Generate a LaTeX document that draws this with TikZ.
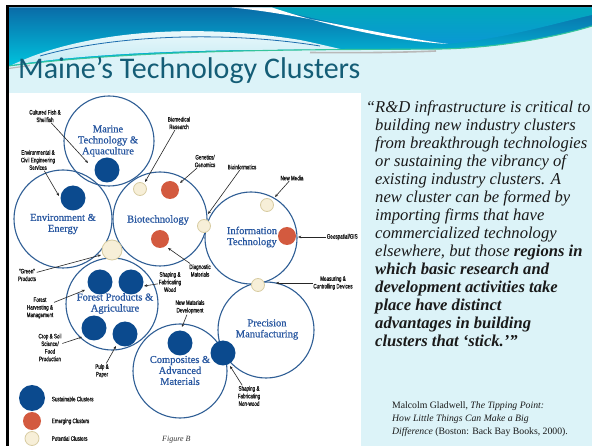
\documentclass[tikz,border=0pt]{standalone}
\usepackage{fontspec}
\setmainfont{Liberation Serif}
\newfontfamily\titlefont{Carlito}
\newfontfamily\annfont[FakeStretch=0.7,FakeBold=0.9]{Liberation Sans}
\newfontfamily\clusterfont[FakeBold=0.7]{Liberation Serif}
\usetikzlibrary{arrows.meta}
\definecolor{slidebg}{HTML}{DCF3F8}
\definecolor{bandtop}{HTML}{0A6CA8}
\definecolor{bandbot}{HTML}{00C3DD}
\definecolor{bandteal}{HTML}{02A8BC}
\definecolor{bandblue}{HTML}{0A98D4}
\definecolor{swoosh}{HTML}{C4EBF4}
\definecolor{swooshline}{HTML}{1C6DAE}
\definecolor{greenline}{HTML}{35C49B}
\definecolor{titlecol}{HTML}{145D76}
\definecolor{ringblue}{HTML}{2F5E95}
\definecolor{labelblue}{HTML}{2857A0}
\definecolor{sustblue}{HTML}{0B4A8E}
\definecolor{emorange}{HTML}{D35A3F}
\definecolor{potbeige}{HTML}{F7EFD8}
\definecolor{potedge}{HTML}{D8CCA2}
\definecolor{quotecol}{HTML}{1A1A1A}
\begin{document}
\begin{tikzpicture}[x=1pt,y=-1pt,
  ring/.style={circle,draw=ringblue,line width=1.1pt,inner sep=0pt},
  sust/.style={circle,fill=sustblue,inner sep=0pt,minimum size=25pt},
  emerg/.style={circle,fill=emorange,inner sep=0pt,minimum size=18pt},
  potent/.style={circle,fill=potbeige,draw=potedge,line width=0.8pt,inner sep=0pt,minimum size=13pt},
  clabel/.style={font=\clusterfont\fontsize{10.5}{11}\selectfont,text=labelblue,align=center,inner sep=0pt},
  ann/.style={font=\annfont\fontsize{6.5}{7.6}\selectfont,align=center,inner sep=0.6pt,text=black!90},
  pointer/.style={draw=black!85,line width=0.6pt,-{Stealth[length=3.2pt,width=2.6pt]}},
]
\useasboundingbox (0,0) rectangle (592,446);
% slide background and frame
\fill[white] (0,0) rectangle (592,446);
\fill[slidebg] (8.5,7.5) rectangle (592,446);

% header band
\shade[top color=bandtop,bottom color=bandbot]
  (8.5,7.5) -- (592,7.5) -- (592,26)
  .. controls (560,36) and (500,48) .. (440,49)
  .. controls (330,50) and (150,48) .. (8.5,66) -- cycle;
\shade[top color=bandteal,bottom color=bandblue]
  (245,7.5) -- (592,7.5) -- (592,15)
  .. controls (560,22) and (500,40) .. (445,44)
  .. controls (380,36) and (310,16) .. (262,7.5) -- cycle;
\fill[white] (232,7.5) .. controls (300,14) and (380,35) .. (448,44)
  .. controls (380,40) and (310,20) .. (272,7.5) -- cycle;
\shade[top color=white!80!swoosh,bottom color=swoosh]
  (12,65) .. controls (80,32) and (190,22) .. (300,40)
  .. controls (320,44) and (335,48) .. (345,50)
  .. controls (250,49) and (110,50) .. (12,65) -- cycle;
\draw[swooshline,line width=0.8pt] (40,56) .. controls (110,36) and (220,30) .. (320,46);
\draw[gray!55,line width=1.6pt] (310,52.5) .. controls (360,53) and (400,52.5) .. (436,51);
\draw[gray!55,line width=1.2pt] (8.5,68.5) -- (30,65.5);
\draw[greenline,line width=1.1pt] (8.5,66) .. controls (150,48) and (330,50) .. (440,49)
  .. controls (500,48) and (560,36) .. (592,26);

% frame lines
\fill[black] (5.5,4.8) rectangle (592,7.5);
\fill[black] (5.5,4.8) rectangle (8.5,446);

% title
\node[anchor=base west,inner sep=0pt,text=titlecol,
  font=\titlefont\fontsize{30}{30}\selectfont] (title) at (18,79) {Maine’s Technology Clusters};

% figure panel
\fill[white] (8.5,93) rectangle (361,446);

% cluster rings
\node[ring,minimum size=90pt] (marine) at (109,141) {};
\node[ring,minimum size=98pt] (env) at (63,219) {};
\node[ring,minimum size=94pt] (bio) at (160,219) {};
\node[ring,minimum size=92pt] (it) at (251,238) {};
\node[ring,minimum size=92pt] (forest) at (112,304) {};
\node[ring,minimum size=94pt] (comp) at (180,371) {};
\node[ring,minimum size=96pt] (prec) at (266,330) {};

% cluster names
\node[clabel] (marine-t) at (108,141) {Marine\\Technology \&\\Aquaculture};
\node[clabel] (env-t) at (63,224) {Environment \&\\Energy};
\node[clabel] (bio-t) at (158,220) {Biotechnology};
\node[clabel] (it-t) at (252,237) {Information\\Technology};
\node[clabel] (forest-t) at (115,303.5) {Forest Products \&\\Agriculture};
\node[clabel] (comp-t) at (180,370.5) {Composites \&\\Advanced\\Materials};
\node[clabel] (prec-t) at (267,329.5) {Precision\\Manufacturing};

% sustainable clusters
\node[sust] (s-marine) at (107,170) {};
\node[sust] (s-env) at (73,198) {};
\node[sust] (s-f1) at (100,282) {};
\node[sust] (s-f2) at (131,282) {};
\node[sust] (s-f3) at (94,328) {};
\node[sust] (s-f4) at (125,334) {};
\node[sust] (s-comp) at (180,343) {};
\node[sust] (s-nonwood) at (223,353) {};

% emerging clusters
\node[emerg] (e-gen) at (170,190) {};
\node[emerg] (e-diag) at (160,239) {};
\node[emerg] (e-geo) at (287,236) {};

% potential clusters
\node[potent] (p-biomed) at (140,189) {};
\node[potent] (p-bioinf) at (204,226) {};
\node[potent] (p-media) at (267,205) {};
\node[potent,minimum size=20pt] (p-green) at (112,250) {};
\node[potent] (p-meas) at (258,285) {};

% pointer tips
\coordinate (t-fish) at (88,163);
\coordinate (t-env) at (59,196);
\coordinate (t-biomed) at (145,182);
\coordinate (t-gen) at (180,183);
\coordinate (t-bioinf) at (208,214);
\coordinate (t-media) at (275,197);
\coordinate (t-geo) at (298,237);
\coordinate (t-diag) at (168,248);
\coordinate (t-wood) at (144,286);
\coordinate (t-newmat) at (182,327);
\coordinate (t-meas) at (276,283);
\coordinate (t-nonwood) at (230,366);
\coordinate (t-green) at (101,255);
\coordinate (t-harv) at (85,290);
\coordinate (t-crop) at (82,337);
\coordinate (t-pulp) at (116,346);

% sub-sector labels
\node[ann] (l-fish) at (45,116) {Cultured Fish \&\\Shellfish};
\node[ann] (l-env) at (38,160) {Environmental \&\\Civil Engineering\\Services};
\node[ann] (l-biomed) at (179,123) {Biomedical\\Research};
\node[ann] (l-gen) at (205,161) {Genetics/\\Genomics};
\node[ann] (l-bioinf) at (242,167) {Bioinformatics};
\node[ann] (l-media) at (292,178) {New Media};
\node[ann,anchor=west] (l-geo) at (326,237) {Geospatial/GIS};
\node[ann] (l-diag) at (200,270.5) {Diagnostic\\Materials};
\node[ann] (l-wood) at (170,282) {Shaping \&\\Fabricating\\Wood};
\node[ann] (l-newmat) at (190,307) {New Materials\\Development};
\node[ann] (l-meas) at (333,283) {Measuring \&\\Controlling Devices};
\node[ann] (l-nonwood) at (249,396) {Shaping \&\\Fabricating\\Non-wood};
\node[ann] (l-green) at (27,275) {“Green”\\Products};
\node[ann] (l-harv) at (40,308) {Forest\\Harvesting \&\\Management};
\node[ann] (l-crop) at (50,347.5) {Crop \& Soil\\Science/\\Food\\Production};
\node[ann] (l-pulp) at (102,371) {Pulp \&\\Paper};

% pointers
\foreach \n in {fish,env,biomed,gen,bioinf,media,geo,diag,wood,newmat,meas,nonwood,green,harv,crop,pulp}
  \draw[pointer] (l-\n) -- (t-\n);

% legend
\node[sust,minimum size=26pt] (k-sust) at (32,398) {};
\node[emerg] (k-emerg) at (32,421) {};
\node[potent,minimum size=14pt] (k-pot) at (32,438.5) {};
\node[ann,anchor=west] (k-sust-t) at (51,399) {Sustainable Clusters};
\node[ann,anchor=west] (k-emerg-t) at (51,421.5) {Emerging Clusters};
\node[ann,anchor=west] (k-pot-t) at (51,438.5) {Potential Clusters};
\node[anchor=base west,inner sep=0pt,font=\itshape\fontsize{8}{8}\selectfont,text=black!80] (fig) at (162,441) {Figure B};

% quotation
\node[anchor=north west,inner sep=0pt,align=left,text=quotecol,
  font=\itshape\fontsize{16.6}{18}\selectfont] (quote) at (375,101)
  {\llap{“}R\&D infrastructure is critical to\\
   building new industry clusters\\
   from breakthrough technologies\\
   or sustaining the vibrancy of\\
   existing industry clusters. A\\
   new cluster can be formed by\\
   importing firms that have\\
   commercialized technology\\
   elsewhere, but those \textbf{regions in}\\
   \textbf{which basic research and}\\
   \textbf{development activities take}\\
   \textbf{place have distinct}\\
   \textbf{advantages in building}\\
   \textbf{clusters that ‘stick.’”}};
\node[anchor=north west,inner sep=0pt,align=left,text=quotecol,
  font=\fontsize{9.75}{12.6}\selectfont] (cite) at (392,402)
  {Malcolm Gladwell, \textit{The Tipping Point:}\\
   \textit{How Little Things Can Make a Big}\\
   \textit{Difference} (Boston: Back Bay Books, 2000).};
\end{tikzpicture}
\end{document}
